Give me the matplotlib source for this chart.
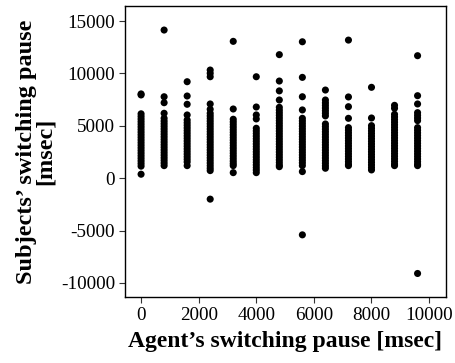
import numpy as np
import matplotlib.pyplot as plt

plt.rcParams['font.family'] = ['Liberation Serif', 'DejaVu Serif']
plt.rcParams['axes.unicode_minus'] = False

# agent's switching pause conditions [msec]
agent_pause = [0, 800, 1600, 2400, 3200, 4000, 4800, 5600, 6400, 7200, 8000, 8800, 9600]

# subjects' switching pauses, one list per condition
subj_0 = [8050, 7950, 6150, 5900, 5650, 5400, 5150, 4900, 4650, 4400, 4150, 3900, 3650,
          3400, 3150, 2900, 2650, 2400, 2150, 1900, 1650, 1400, 1150, 380]
subj_800 = [14150, 7780, 7210, 6200, 5720, 5450, 5200, 4950, 4700, 4450, 4200, 3950, 3700,
            3450, 3200, 2950, 2700, 2450, 2200, 1950, 1700, 1450, 1200]
subj_1600 = [9215, 7850, 7060, 6040, 5560, 5300, 5050, 4800, 4550, 4300, 4050, 3800, 3550,
             3300, 3050, 2800, 2550, 2300, 2050, 1800, 1550, 1200]
subj_2400 = [10330, 10020, 9690, 7090, 6580, 6200, 5950, 5700, 5450, 5200, 4950, 4700, 4450,
             4200, 3950, 3700, 3450, 3200, 2950, 2700, 2450, 2200, 1950, 1700, 1450, 1200,
             950, 725, -2000]
subj_3200 = [13070, 6610, 5630, 5380, 5130, 4880, 4630, 4380, 4130, 3880, 3630, 3380, 3130,
             2880, 2630, 2380, 2130, 1880, 1630, 1400, 1200, 530]
subj_4000 = [9690, 6800, 6040, 5660, 4770, 4520, 4270, 4020, 3770, 3520, 3270, 3020, 2770,
             2520, 2270, 2020, 1770, 1520, 1270, 1020, 780, 530]
subj_4800 = [11800, 9280, 8340, 7470, 6770, 6500, 6250, 6000, 5750, 5500, 5250, 5000, 4750,
             4500, 4250, 4000, 3750, 3500, 3250, 3000, 2750, 2500, 2250, 2000, 1750, 1500,
             1250, 1100]
subj_5600 = [13030, 9630, 7780, 6520, 5720, 5470, 5220, 4970, 4720, 4470, 4220, 3970, 3720,
             3470, 3220, 2970, 2720, 2470, 2220, 1970, 1720, 1470, 1200, 630, -5410]
subj_6400 = [8420, 7470, 7200, 6950, 6700, 6450, 6200, 5950, 5180, 4930, 4680, 4430, 4180,
             3930, 3680, 3430, 3180, 2930, 2680, 2430, 2180, 1930, 1680, 1430, 1180, 950]
subj_7200 = [13190, 7760, 6830, 5720, 4830, 4580, 4330, 4080, 3830, 3580, 3330, 3080, 2830,
             2580, 2330, 2080, 1830, 1580, 1330, 1200]
subj_8000 = [8680, 5750, 5020, 4770, 4520, 4270, 4020, 3770, 3520, 3270, 3020, 2770, 2520,
             2270, 2020, 1770, 1520, 1270, 1020, 790]
subj_8800 = [6960, 6680, 6100, 5850, 5600, 5350, 5100, 4850, 4600, 4350, 4100, 3850, 3600,
             3350, 3100, 2850, 2600, 2350, 2100, 1850, 1600, 1350, 1200]
subj_9600 = [11700, 7880, 7090, 6260, 6000, 5750, 5500, 4830, 4580, 4330, 4080, 3830, 3580,
             3330, 3080, 2830, 2580, 2330, 2080, 1830, 1580, 1330, 1200, -9100]

subjects = [subj_0, subj_800, subj_1600, subj_2400, subj_3200, subj_4000, subj_4800,
            subj_5600, subj_6400, subj_7200, subj_8000, subj_8800, subj_9600]

xs = []
ys = []
for a, vals in zip(agent_pause, subjects):
    xs += [a] * len(vals)
    ys += vals

fig = plt.figure(figsize=(4.56, 3.63), dpi=100)
ax = fig.add_axes([0.274, 0.182, 0.703, 0.801])
ax.scatter(xs, ys, s=26, color='black', edgecolors='none')

ax.set_xlim(-560, 10570)
ax.set_ylim(-11340, 16430)
ax.set_xticks([0, 2000, 4000, 6000, 8000, 10000])
ax.set_yticks([-10000, -5000, 0, 5000, 10000, 15000])
ax.tick_params(direction='out', length=4, width=0.8, labelsize=13.8, pad=3, color='#333333')
for sp in ax.spines.values():
    sp.set_linewidth(1.0)

ax.set_xlabel('Agent\u2019s switching pause [msec]', fontsize=17, fontweight='bold', labelpad=5)
ax.set_ylabel('Subjects\u2019 switching pause\n[msec]', fontsize=17.5, fontweight='bold',
              labelpad=4, linespacing=0.85)

fig.savefig('out.png', dpi=100)
